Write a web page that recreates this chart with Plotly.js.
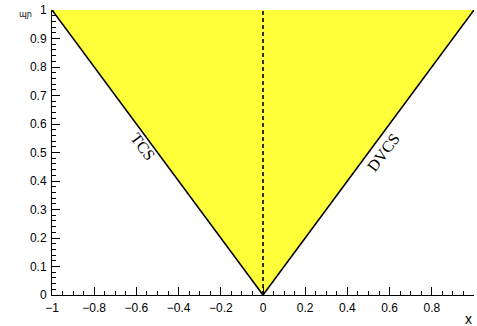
<!DOCTYPE html>
<html>
<head>
<meta charset="utf-8">
<script src="https://cdn.plot.ly/plotly-3.0.1.min.js"></script>
<style>
  html, body { margin: 0; padding: 0; background: #fff; }
  #chart { width: 477px; height: 326px; }
</style>
</head>
<body>
<div id="chart"></div>
<script>
// kinematic region: V shape between the TCS and DVCS lines
const regionX = [-1, 0, 1];
const regionY = [1, 0, 1];
const tcsX = [-1, 0];
const tcsY = [1, 0];
const dvcsX = [0, 1];
const dvcsY = [0, 1];
const divideX = [0, 0];
const divideY = [0, 1];
const lineLabels = [
  { text: 'TCS', x: -0.57, y: 0.52, angle: 53.5 },
  { text: 'DVCS', x: 0.57, y: 0.5, angle: -53.5 }
];

const traces = [
  {
    x: regionX, y: regionY, type: 'scatter', mode: 'none',
    fill: 'toself', fillcolor: '#ffff3a', hoverinfo: 'skip'
  },
  { x: tcsX, y: tcsY, type: 'scatter', mode: 'lines', line: { color: '#000', width: 1.6 } },
  { x: dvcsX, y: dvcsY, type: 'scatter', mode: 'lines', line: { color: '#000', width: 1.6 } },
  { x: divideX, y: divideY, type: 'scatter', mode: 'lines', line: { color: '#000', width: 1.6, dash: '4px,3px' } }
];

const annotations = lineLabels.map((l) => ({
  text: l.text, x: l.x, y: l.y, xref: 'x', yref: 'y', showarrow: false,
  textangle: l.angle, font: { family: 'Liberation Serif, Times New Roman, serif', size: 16, color: '#000' }
}));
annotations.push(
  { text: 'x', xref: 'paper', yref: 'paper', x: 1.0, y: -0.085, xanchor: 'right', yanchor: 'middle',
    showarrow: false, font: { family: 'Liberation Sans, Arial, sans-serif', size: 14, color: '#000' } },
  { text: 'ɰɲ', xref: 'paper', yref: 'paper', x: -0.062, y: 0.985, xanchor: 'center', yanchor: 'middle',
    showarrow: false, font: { family: 'DejaVu Sans, sans-serif', size: 8, color: '#000' } }
);

const axisFont = { family: 'Liberation Sans, Arial, sans-serif', size: 12, color: '#000' };

const layout = {
  width: 477, height: 326,
  paper_bgcolor: '#fff', plot_bgcolor: '#fff',
  margin: { l: 52, r: 3, t: 10, b: 31 },
  showlegend: false,
  xaxis: {
    range: [-1, 1], dtick: 0.2, tick0: -1, ticks: 'inside', ticklen: 8, tickwidth: 1, tickcolor: '#000',
    minor: { dtick: 0.05, ticks: 'inside', ticklen: 4, tickcolor: '#000', showgrid: false },
    showgrid: false, zeroline: false, showline: true, linecolor: '#000', linewidth: 1,
    tickfont: axisFont, ticklabelstandoff: 2
  },
  yaxis: {
    range: [0, 1], dtick: 0.1, tick0: 0, ticks: 'inside', ticklen: 8, tickwidth: 1, tickcolor: '#000',
    minor: { dtick: 0.02, ticks: 'inside', ticklen: 4, tickcolor: '#000', showgrid: false },
    showgrid: false, zeroline: false, showline: true, linecolor: '#000', linewidth: 1,
    tickfont: axisFont, ticklabelstandoff: 2
  },
  annotations
};

Plotly.newPlot('chart', traces, layout, { displayModeBar: false, staticPlot: true });
</script>
</body>
</html>
